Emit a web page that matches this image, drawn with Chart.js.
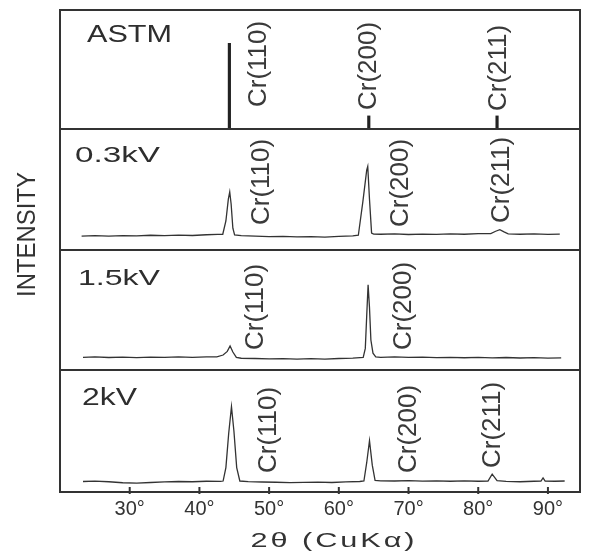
<!DOCTYPE html>
<html>
<head>
<meta charset="utf-8">
<script src="https://cdn.jsdelivr.net/npm/chart.js@4.4.1/dist/chart.umd.min.js"></script>
<style>
  html, body { margin: 0; padding: 0; background: #fff; }
</style>
</head>
<body>
<canvas id="xrd" width="593" height="558"></canvas>
<script>
const panelNames = ['ASTM', '0.3kV', '1.5kV', '2kV'];
const reflections = ['Cr(110)', 'Cr(200)', 'Cr(211)'];
const tickValues = [30, 40, 50, 60, 70, 80, 90];
const tickLabels = ['30°', '40°', '50°', '60°', '70°', '80°', '90°'];

// ASTM card lines
const astmTheta = [44.3, 64.3, 82.7];
const astmIntensity = [72, 11, 11];

// scans, [2theta, intensity]
const scan03 = [
  [23.1, 11.5], [25, 11.8], [27, 11.4], [29, 11.9], [31, 11.6], [33, 12.2], [35, 11.8],
  [37, 12.3], [39, 12.0], [41, 12.6], [42.6, 12.9], [43.35, 13], [43.8, 24], [44.15, 42],
  [44.35, 48], [44.55, 38], [44.8, 18], [45.05, 12.5], [46, 11.8], [48, 11.5], [50, 11.0],
  [52, 11.3], [54, 10.8], [56, 11.1], [58, 10.7], [60, 11.2], [62, 11.6], [62.8, 12.2],
  [63.45, 40], [64.0, 66], [64.15, 69], [64.4, 42], [64.7, 14], [65.0, 13.2], [66, 13],
  [68, 13.3], [70, 12.8], [72, 13.2], [74, 12.9], [76, 13.4], [78, 13.0], [80, 13.5],
  [81.8, 13.6], [82.5, 15.5], [83.1, 16.8], [83.7, 15], [84.3, 13.4], [86, 13.0],
  [88, 13.3], [90, 12.9], [91.7, 13.1]
];

const scan15 = [
  [23.3, 10.6], [25, 10.9], [27, 10.4], [29, 10.7], [31, 10.3], [33, 10.8], [35, 10.5],
  [37, 10.9], [39, 10.6], [41, 10.9], [42.5, 11], [43.4, 12.5], [44.0, 15.5], [44.4, 20],
  [44.8, 15], [45.3, 10.5], [46, 9.8], [48, 9.6], [50, 9.2], [52, 9.5], [54, 9.0],
  [56, 9.4], [58, 9.1], [60, 9.6], [62, 9.9], [63.5, 10.5], [63.8, 18], [64.0, 45],
  [64.2, 71], [64.4, 52], [64.6, 25], [64.9, 14], [65.3, 11], [66, 10.6], [68, 10.9],
  [70, 10.5], [72, 10.8], [74, 10.3], [76, 10.6], [78, 10.2], [80, 10.5], [82, 10.1],
  [84, 10.4], [86, 10.0], [88, 10.3], [90, 9.9], [91.9, 10.1]
];

const scan2 = [
  [23.3, 8.6], [25, 8.9], [27, 8.4], [29, 7.6], [31, 7.2], [33, 7.8], [35, 8.3],
  [37, 8.6], [39, 8.4], [41, 8.8], [43.0, 8.7], [43.4, 9], [43.8, 20], [44.2, 48],
  [44.6, 70], [44.95, 50], [45.35, 20], [45.8, 9], [47, 8.5], [49, 8.2], [51, 8.0],
  [53, 7.7], [55, 7.9], [57, 8.1], [59, 7.8], [61, 8.3], [63.0, 8.6], [63.6, 9],
  [64.0, 24], [64.4, 42], [64.8, 22], [65.2, 9.5], [66, 9.2], [68, 9.0], [70, 9.3],
  [72, 8.9], [74, 9.2], [76, 8.8], [78, 9.1], [80, 8.8], [81.4, 9], [82.0, 14.7],
  [82.7, 9.3], [84, 8.7], [86, 8.4], [88, 8.8], [89.0, 9], [89.3, 11.5], [89.6, 9],
  [91, 8.8], [92.4, 9.0]
];

// layout of the panels and labels (pixels)
const panelAxes = ['yAstm', 'y03', 'y15', 'y2'];
const panelHeights = [119, 121, 120, 122];
const nameSpots = [
  { x: 87, dy: 32, size: 24, width: 85 },
  { x: 75, dy: 33, size: 22, width: 85 },
  { x: 78, dy: 35, size: 22, width: 82 },
  { x: 82, dy: 35, size: 23, width: 55 }
];
const tagSpots = [
  [[0, 48.46, 22], [1, 64.25, 19], [2, 82.91, 18]],
  [[0, 48.95, 25], [1, 68.9, 23], [2, 83.4, 27]],
  [[0, 48.13, 20], [1, 69.28, 20]],
  [[0, 49.9, 19], [1, 69.99, 19], [2, 82.05, 24]]
];

const toPoints = (rows) => rows.map(([x, y]) => ({ x, y }));

const traceStyle = {
  type: 'line',
  borderColor: '#333',
  borderWidth: 1.3,
  pointRadius: 0,
  tension: 0,
  fill: false
};

const stretchedText = (ctx, text, x, y, size, width) => {
  ctx.font = size + 'px "Liberation Sans", Arial, sans-serif';
  const w = ctx.measureText(text).width;
  ctx.save();
  ctx.translate(x, y);
  ctx.scale(width / w, 1);
  ctx.fillText(text, 0, 0);
  ctx.restore();
};

const decorations = {
  id: 'decorations',
  afterDraw(chart) {
    const { ctx, chartArea: a, scales } = chart;
    ctx.save();
    ctx.strokeStyle = '#333';
    ctx.lineWidth = 2;
    ctx.strokeRect(a.left, a.top, a.right - a.left, a.bottom - a.top);

    panelAxes.forEach((id) => {
      const top = scales[id].top;
      if (top > a.top + 2) {
        ctx.beginPath();
        ctx.moveTo(a.left, top);
        ctx.lineTo(a.right, top);
        ctx.stroke();
      }
    });

    // inward ticks on the 2theta axis
    tickValues.forEach((v) => {
      const px = scales.x.getPixelForValue(v);
      ctx.beginPath();
      ctx.moveTo(px, a.bottom - 5);
      ctx.lineTo(px, a.bottom + 2);
      ctx.stroke();
    });

    ctx.fillStyle = '#2e2e2e';
    ctx.textBaseline = 'alphabetic';
    ctx.textAlign = 'left';
    panelAxes.forEach((id, i) => {
      const s = nameSpots[i];
      stretchedText(ctx, panelNames[i], s.x, scales[id].top + s.dy, s.size, s.width);
    });

    // reflection tags, rotated
    ctx.fillStyle = '#3a3a3a';
    ctx.font = '26px "Liberation Sans", Arial, sans-serif';
    ctx.textBaseline = 'middle';
    panelAxes.forEach((id, i) => {
      tagSpots[i].forEach(([r, at, lift]) => {
        ctx.save();
        ctx.translate(scales.x.getPixelForValue(at), scales[id].bottom - lift);
        ctx.rotate(-Math.PI / 2);
        ctx.fillText(reflections[r], 0, 0);
        ctx.restore();
      });
    });

    // axis titles
    ctx.fillStyle = '#333';
    ctx.textAlign = 'center';
    ctx.save();
    ctx.translate(27.5, 234.5);
    ctx.rotate(-Math.PI / 2);
    ctx.font = '23px "Liberation Sans", Arial, sans-serif';
    const iw = ctx.measureText('INTENSITY').width;
    ctx.scale(125 / iw, 1.15);
    ctx.fillText('INTENSITY', 0, 0);
    ctx.restore();

    ctx.save();
    ctx.font = '21px "Liberation Sans", Arial, sans-serif';
    ctx.letterSpacing = '2px';
    const tw = ctx.measureText('2θ (CuKα)').width;
    ctx.translate(334, 541.5);
    ctx.scale(167 / tw, 1);
    ctx.fillText('2θ (CuKα)', 0, 0);
    ctx.restore();

    ctx.restore();
  }
};

const yPanel = (weight) => ({
  type: 'linear',
  position: 'left',
  stack: 'panels',
  stackWeight: weight,
  min: 0,
  max: 100,
  ticks: { display: false },
  grid: { display: false },
  border: { display: false },
  afterFit: (s) => { s.width = 0; }
});

new Chart(document.getElementById('xrd'), {
  type: 'line',
  data: {
    datasets: [
      {
        type: 'bar',
        data: astmTheta.map((x, i) => ({ x, y: astmIntensity[i] })),
        yAxisID: 'yAstm',
        backgroundColor: '#222',
        barThickness: 2.5
      },
      { ...traceStyle, data: toPoints(scan03), yAxisID: 'y03' },
      { ...traceStyle, data: toPoints(scan15), yAxisID: 'y15' },
      { ...traceStyle, data: toPoints(scan2), yAxisID: 'y2' }
    ]
  },
  options: {
    responsive: false,
    animation: false,
    devicePixelRatio: 1,
    layout: { padding: { left: 60, right: 13, top: 10, bottom: 0 } },
    plugins: { legend: { display: false }, tooltip: { enabled: false } },
    scales: {
      x: {
        type: 'linear',
        min: 20,
        max: 94.6,
        offset: false,
        afterBuildTicks: (s) => { s.ticks = tickValues.map((v) => ({ value: v })); },
        afterFit: (s) => { s.height = 66; },
        ticks: {
          callback: (v) => tickLabels[tickValues.indexOf(v)],
          color: '#333',
          font: { size: 20, family: '"Liberation Sans", Arial, sans-serif' },
          padding: 5,
          maxRotation: 0,
          autoSkip: false
        },
        grid: { display: false, drawTicks: false, offset: false },
        border: { display: false }
      },
      y2: yPanel(panelHeights[3]),
      y15: yPanel(panelHeights[2]),
      y03: yPanel(panelHeights[1]),
      yAstm: yPanel(panelHeights[0])
    }
  },
  plugins: [decorations]
});
</script>
</body>
</html>
